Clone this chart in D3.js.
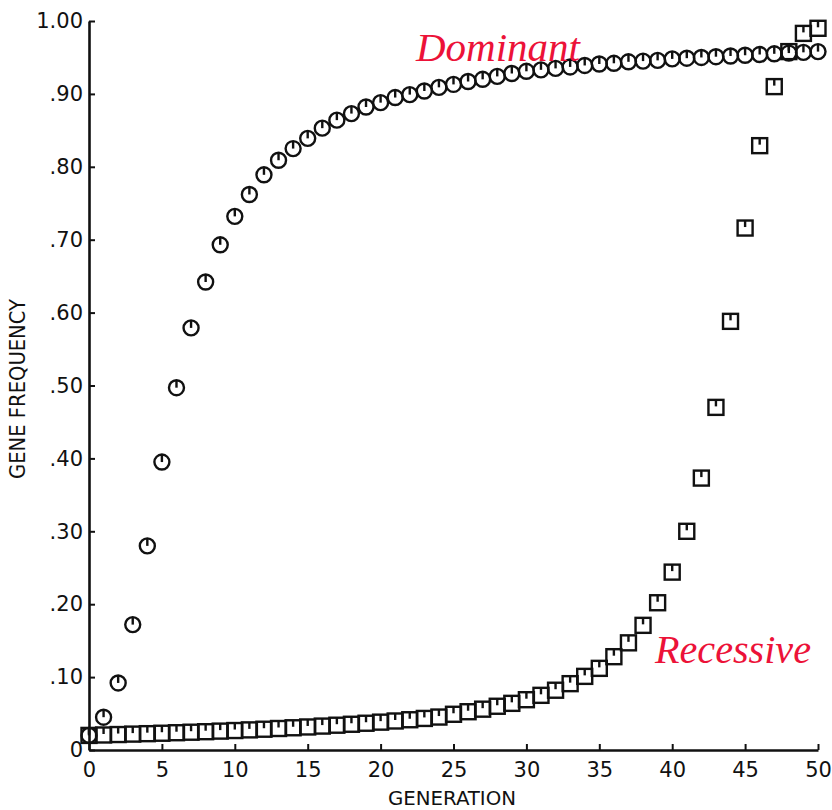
<!DOCTYPE html>
<html>
<head>
<meta charset="utf-8">
<script src="https://cdn.jsdelivr.net/npm/d3@7"></script>
<style>
  body { margin: 0; background: #fff; }
  svg { display: block; }
</style>
</head>
<body>
<svg id="chart" width="832" height="810"></svg>
<script>
// generation 0..50
const generations = d3.range(0, 51);

// favoured dominant allele (circles)
const dominant = [
  0.020, 0.045, 0.092, 0.172, 0.280, 0.395, 0.497, 0.579, 0.642, 0.693,
  0.732, 0.762, 0.789, 0.809, 0.825, 0.839, 0.853, 0.864, 0.873, 0.882,
  0.888, 0.895, 0.899, 0.904, 0.909, 0.913, 0.917, 0.920, 0.924, 0.928,
  0.931, 0.933, 0.935, 0.937, 0.939, 0.941, 0.942, 0.944, 0.945, 0.946,
  0.948, 0.949, 0.950, 0.951, 0.952, 0.953, 0.954, 0.955, 0.956, 0.957,
  0.958
];

// favoured recessive allele (squares)
const recessive = [
  0.020, 0.0206, 0.0212, 0.0218, 0.0224, 0.0230, 0.0237, 0.0244, 0.0251, 0.0259,
  0.0267, 0.0276, 0.0285, 0.0295, 0.0305, 0.0316, 0.0328, 0.0340, 0.0353, 0.0367,
  0.0382, 0.0398, 0.0415, 0.0433, 0.0452, 0.049, 0.0525, 0.056, 0.060, 0.064,
  0.069, 0.075, 0.082, 0.091, 0.101, 0.112, 0.128, 0.147, 0.171, 0.202,
  0.244, 0.300, 0.373, 0.470, 0.588, 0.716, 0.829, 0.910, 0.958, 0.983,
  0.990
];

const xTicks = [0, 5, 10, 15, 20, 25, 30, 35, 40, 45, 50];
const yTicks = [0, 0.1, 0.2, 0.3, 0.4, 0.5, 0.6, 0.7, 0.8, 0.9, 1.0];
const yTickLabels = ["0", ".10", ".20", ".30", ".40", ".50", ".60", ".70", ".80", ".90", "1.00"];

const svg = d3.select("#chart");
const x = d3.scaleLinear().domain([0, 50]).range([89, 818]);
const y = d3.scaleLinear().domain([0, 1]).range([750, 21]);

const ink = "#111";
const tickFont = "'DejaVu Sans', sans-serif";

// axes
const xAxis = svg.append("g")
  .attr("transform", `translate(0,${y(0)})`)
  .call(d3.axisBottom(x).tickValues(xTicks).tickSizeInner(-6).tickSizeOuter(0).tickPadding(12));
const yAxis = svg.append("g")
  .attr("transform", `translate(${x(0)},0)`)
  .call(d3.axisLeft(y).tickValues(yTicks).tickSizeInner(-6).tickSizeOuter(0).tickPadding(6)
    .tickFormat((d, i) => yTickLabels[i]));

[xAxis, yAxis].forEach(g => {
  g.select(".domain").attr("stroke", ink).attr("stroke-width", 2.6);
  g.selectAll(".tick line").attr("stroke", ink).attr("stroke-width", 2);
  g.selectAll(".tick text")
    .attr("fill", ink)
    .style("font-family", tickFont)
    .style("font-size", "21px");
});

// axis titles
svg.append("text")
  .attr("x", 452).attr("y", 805)
  .attr("text-anchor", "middle")
  .attr("textLength", 128).attr("lengthAdjust", "spacingAndGlyphs")
  .style("font-family", "'DejaVu Sans Condensed', 'DejaVu Sans', sans-serif")
  .style("font-size", "20px")
  .attr("fill", ink)
  .text("GENERATION");

svg.append("text")
  .attr("transform", "translate(25,389) rotate(-90)")
  .attr("text-anchor", "middle")
  .attr("textLength", 180).attr("lengthAdjust", "spacingAndGlyphs")
  .style("font-family", "'DejaVu Sans Condensed', 'DejaVu Sans', sans-serif")
  .style("font-size", "21px")
  .attr("fill", ink)
  .text("GENE FREQUENCY");

// markers
const h = 7.5;
const recG = svg.append("g").attr("fill", "none").attr("stroke", ink).attr("stroke-width", 2.4);
const rec = recG.selectAll("g").data(generations).join("g")
  .attr("transform", i => `translate(${x(i)},${y(recessive[i])})`);
rec.append("rect").attr("x", -h).attr("y", -h).attr("width", 2 * h).attr("height", 2 * h);
rec.append("line").attr("x1", 0).attr("x2", 0).attr("y1", -h).attr("y2", -1);

const domG = svg.append("g").attr("fill", "none").attr("stroke", ink).attr("stroke-width", 2.4);
const dom = domG.selectAll("g").data(generations).join("g")
  .attr("transform", i => `translate(${x(i)},${y(dominant[i])})`);
dom.append("circle").attr("r", h);
dom.append("line").attr("x1", 0).attr("x2", 0).attr("y1", -h).attr("y2", 0);

// hand written notes
const red = "#ec1238";
svg.append("text")
  .attr("x", 416).attr("y", 61)
  .attr("textLength", 164).attr("lengthAdjust", "spacingAndGlyphs")
  .style("font-family", "'Liberation Serif', serif")
  .style("font-style", "italic")
  .style("font-size", "40px")
  .attr("fill", red)
  .text("Dominant");

svg.append("text")
  .attr("x", 655).attr("y", 663)
  .attr("textLength", 156).attr("lengthAdjust", "spacingAndGlyphs")
  .style("font-family", "'Liberation Serif', serif")
  .style("font-style", "italic")
  .style("font-size", "40px")
  .attr("fill", red)
  .text("Recessive");
</script>
</body>
</html>
